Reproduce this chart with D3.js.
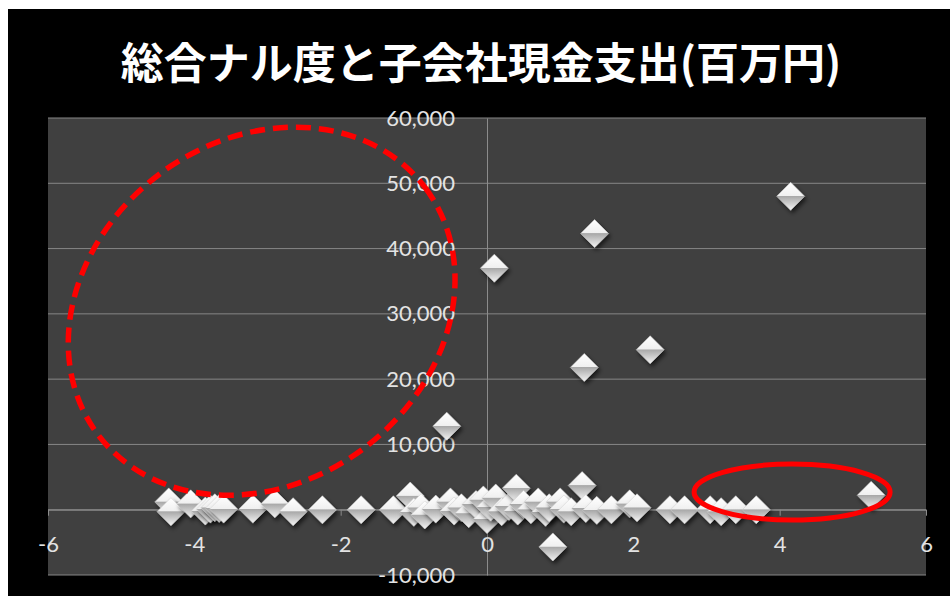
<!DOCTYPE html>
<html>
<head>
<meta charset="utf-8">
<script src="https://cdn.jsdelivr.net/npm/d3@7"></script>
<style>
  body { margin: 0; background: #fff; }
  text { font-family: Lato, "Open Sans", sans-serif; }
</style>
</head>
<body>
<div id="chart"></div>
<script>
// data
var titleText = "総合ナル度と子会社現金支出(百万円)";

var xValues = [-4.35, -4.32, -4.05, -3.85, -3.78, -3.72, -3.66, -3.6, -3.2, -2.9,
  -2.65, -2.25, -1.72, -1.28, -1.05, -1.0, -0.9, -0.85, -0.7, -0.55,
  -0.5, -0.45, -0.35, -0.25, -0.15, -0.05, 0.0, 0.05, 0.1, 0.12,
  0.2, 0.3, 0.4, 0.42, 0.5, 0.6, 0.7, 0.8, 0.85, 0.9,
  1.0, 1.05, 1.15, 1.3, 1.33, 1.35, 1.47, 1.5, 1.7, 1.95,
  2.05, 2.23, 2.5, 2.7, 3.05, 3.2, 3.4, 3.68, 4.15, 5.25];

var yValues = [1200, -300, 900, -200, 100, 300, 200, 100, 100, 900,
  -300, 0, 0, 0, 2100, -400, 300, -800, 100, 12800,
  1200, -200, 300, -600, 800, 1500, -1500, 400, 37000, 1800,
  -300, 500, 3300, -200, 800, 0, 1200, -400, 300, -5700,
  1200, 100, -300, 3700, 21800, 200, 42300, -100, 0, 900,
  300, 24500, 0, 0, 0, -300, 0, 0, 48000, 2200];

var xTicks = [-6, -4, -2, 0, 2, 4, 6];
var yTicks = [-10000, 0, 10000, 20000, 30000, 40000, 50000, 60000];

// red hand-drawn marks, centres in data units
var noteX = [-3.08, 4.17];
var noteY = [30400, 2700];

var svgWidth = 950;
var svgHeight = 596;
var plot = { left: 48, right: 926, top: 118, bottom: 575 };

var svg = d3.select("#chart")
  .append("svg")
  .attr("width", svgWidth)
  .attr("height", svgHeight);

var defs = svg.append("defs");

var grad = defs.append("linearGradient")
  .attr("id", "gem")
  .attr("x1", 0).attr("y1", 0)
  .attr("x2", 0).attr("y2", 1);
grad.append("stop").attr("offset", "0%").attr("stop-color", "#ffffff");
grad.append("stop").attr("offset", "48%").attr("stop-color", "#f0f0f0");
grad.append("stop").attr("offset", "50%").attr("stop-color", "#a8a8a8");
grad.append("stop").attr("offset", "80%").attr("stop-color", "#d6d6d6");
grad.append("stop").attr("offset", "100%").attr("stop-color", "#f4f4f4");

var shadow = defs.append("filter")
  .attr("id", "shadow")
  .attr("x", "-50%").attr("y", "-50%")
  .attr("width", "200%").attr("height", "200%");
shadow.append("feDropShadow")
  .attr("dx", 2).attr("dy", 3)
  .attr("stdDeviation", 2)
  .attr("flood-color", "#000")
  .attr("flood-opacity", 0.6);

// background
svg.append("rect")
  .attr("x", 8).attr("y", 9)
  .attr("width", svgWidth - 8).attr("height", svgHeight - 9)
  .attr("fill", "#000");

svg.append("rect")
  .attr("x", plot.left).attr("y", plot.top)
  .attr("width", plot.right - plot.left)
  .attr("height", plot.bottom - plot.top)
  .attr("fill", "#404040");

// title
svg.append("text")
  .attr("x", 481)
  .attr("y", 60)
  .attr("text-anchor", "middle")
  .attr("dominant-baseline", "central")
  .attr("fill", "#fff")
  .attr("font-size", "43px")
  .attr("font-weight", "bold")
  .style("font-family", "'Noto Sans CJK JP', sans-serif")
  .text(titleText);

// scales
var xScale = d3.scaleLinear().domain([-6, 6]).range([plot.left, plot.right]);
var yScale = d3.scaleLinear().domain([-10000, 60000]).range([plot.bottom, plot.top]);

// hyphen minus like the original, not d3's U+2212
var fmtComma = d => d3.format(",")(d).replace("\u2212", "-");
var fmtPlain = d => String(d);

// gridlines
svg.append("g")
  .selectAll("line")
  .data(yTicks)
  .enter()
  .append("line")
  .attr("x1", plot.left)
  .attr("x2", plot.right)
  .attr("y1", d => yScale(d))
  .attr("y2", d => yScale(d))
  .attr("stroke", "#868686")
  .attr("stroke-width", 1);

// y axis at x = 0
var yAxis = d3.axisLeft(yScale)
  .tickValues(yTicks)
  .tickFormat(fmtComma)
  .tickSize(0)
  .tickPadding(32);

var yAxisG = svg.append("g")
  .attr("transform", `translate(${xScale(0)}, 0)`)
  .call(yAxis);
yAxisG.select(".domain").attr("stroke", "#8c8c8c");
yAxisG.selectAll("text")
  .attr("fill", "#e3e3e3")
  .attr("font-size", "22px")
  .style("font-family", "Lato, sans-serif");

// x axis at y = 0
var xAxis = d3.axisBottom(xScale)
  .tickValues(xTicks)
  .tickFormat(fmtPlain)
  .tickSizeInner(6)
  .tickSizeOuter(0)
  .tickPadding(21);

var xAxisG = svg.append("g")
  .attr("transform", `translate(0, ${yScale(0)})`)
  .call(xAxis);
xAxisG.select(".domain").attr("stroke", "#8c8c8c");
xAxisG.selectAll(".tick line").attr("stroke", "#8c8c8c");
xAxisG.selectAll("text")
  .attr("fill", "#e3e3e3")
  .attr("font-size", "22px")
  .style("font-family", "Lato, sans-serif");

// points
var diamond = {
  draw: function (context, size) {
    var h = Math.sqrt(size) / 2;
    context.moveTo(0, -h);
    context.lineTo(h, 0);
    context.lineTo(0, h);
    context.lineTo(-h, 0);
    context.closePath();
  }
};

var points = xValues.map((x, i) => ({ x: x, y: yValues[i] }));

svg.append("g")
  .selectAll("path")
  .data(points)
  .enter()
  .append("path")
  .attr("d", d3.symbol(diamond, 28 * 28))
  .attr("transform", d => `translate(${xScale(d.x)}, ${yScale(d.y)})`)
  .attr("fill", "url(#gem)")
  .attr("stroke", "#cfcfcf")
  .attr("stroke-width", 0.5)
  .attr("filter", "url(#shadow)");

// red annotations
svg.append("ellipse")
  .attr("cx", 0).attr("cy", 0)
  .attr("rx", 205).attr("ry", 171)
  .attr("transform", `translate(${xScale(noteX[0])}, ${yScale(noteY[0])}) rotate(-37)`)
  .attr("fill", "none")
  .attr("stroke", "#ff0000")
  .attr("stroke-width", 5.5)
  .attr("stroke-dasharray", "15 8");

svg.append("ellipse")
  .attr("cx", 0).attr("cy", 0)
  .attr("rx", 98).attr("ry", 28)
  .attr("transform", `translate(${xScale(noteX[1])}, ${yScale(noteY[1])})`)
  .attr("fill", "none")
  .attr("stroke", "#ff0000")
  .attr("stroke-width", 5);
</script>
</body>
</html>
